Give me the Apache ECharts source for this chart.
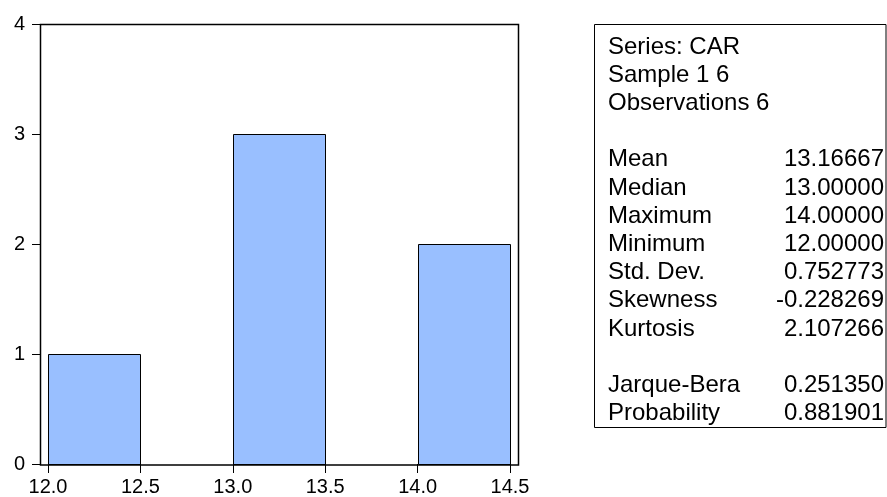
<!DOCTYPE html>
<html>
<head>
<meta charset="utf-8">
<script src="https://cdn.jsdelivr.net/npm/echarts@6/dist/echarts.min.js"></script>
<style>
  html, body { margin: 0; padding: 0; background: #fff; }
  #chart { width: 887px; height: 497px; }
</style>
</head>
<body>
<div id="chart"></div>
<script>
// Histogram of CAR: bin starts, bin width and counts
const binStarts = [12.0, 12.5, 13.0, 13.5, 14.0];
const binWidth = 0.5;
const counts = [1, 0, 3, 0, 2];
const xTicks = [12.0, 12.5, 13.0, 13.5, 14.0, 14.5];
const yTicks = [0, 1, 2, 3, 4];

// Descriptive statistics panel
const headerLines = ['Series: CAR', 'Sample 1 6', 'Observations 6'];
const statNames = ['Mean', 'Median', 'Maximum', 'Minimum', 'Std. Dev.', 'Skewness', 'Kurtosis'];
const statValues = ['13.16667', '13.00000', '14.00000', '12.00000', '0.752773', '-0.228269', '2.107266'];
const testNames = ['Jarque-Bera', 'Probability'];
const testValues = ['0.251350', '0.881901'];

const FONT = 'Arial, "Liberation Sans", sans-serif';
const chart = echarts.init(document.getElementById('chart'), null, { renderer: 'canvas' });

// statistics panel text rows
const rowH = 28.2;
const rowTop = 48;
const textLeft = 608;
const textRight = 884;
const statGraphics = [];
function addRow(idx, name, value) {
  statGraphics.push({
    type: 'text', left: textLeft, top: rowTop + idx * rowH - 13,
    style: { text: name, font: '24px ' + FONT, fill: '#000' }
  });
  if (value !== undefined) {
    statGraphics.push({
      type: 'text', right: 887 - textRight, top: rowTop + idx * rowH - 13,
      style: { text: value, font: '24px ' + FONT, fill: '#000' }
    });
  }
}
headerLines.forEach((t, i) => addRow(i, t));
statNames.forEach((t, i) => addRow(i + 4, t, statValues[i]));
testNames.forEach((t, i) => addRow(i + 12, t, testValues[i]));

chart.setOption({
  animation: false,
  backgroundColor: '#fff',
  grid: { left: 48, right: 887 - 510, top: 24.5, bottom: 497 - 465, containLabel: false },
  xAxis: {
    type: 'value', min: 12.0, max: 14.5, interval: 0.5,
    axisLine: { show: false },
    axisTick: { show: true, length: 9, lineStyle: { color: '#000', width: 1 } },
    axisLabel: {
      margin: 13, color: '#000', fontFamily: FONT, fontSize: 20,
      formatter: v => v.toFixed(1), showMinLabel: true, showMaxLabel: true
    },
    splitLine: { show: false }
  },
  yAxis: {
    type: 'value', min: 0, max: 4, interval: 1, offset: 8,
    axisLine: { show: false },
    axisTick: { show: true, length: 8, lineStyle: { color: '#000', width: 1 } },
    axisLabel: { margin: 15, color: '#000', fontFamily: FONT, fontSize: 20 },
    splitLine: { show: false }
  },
  graphic: [
    // plot frame
    {
      type: 'rect', shape: { x: 40.5, y: 24.5, width: 478, height: 440.5 },
      style: { fill: 'none', stroke: '#000', lineWidth: 1.5 }, z: 10
    },
    // statistics box
    {
      type: 'rect', shape: { x: 594.5, y: 24.5, width: 291.5, height: 403 },
      style: { fill: '#fff', stroke: '#000', lineWidth: 1 }, z: 1
    }
  ].concat(statGraphics.map(g => Object.assign({ z: 2 }, g))),
  series: [{
    type: 'custom',
    data: binStarts.map((s, i) => [s, s + binWidth, counts[i]]).filter(d => d[2] > 0),
    renderItem: function (params, api) {
      const p0 = api.coord([api.value(0), 0]);
      const p1 = api.coord([api.value(1), api.value(2)]);
      return {
        type: 'rect',
        shape: { x: Math.round(p0[0]) + 0.5, y: Math.round(p1[1]) + 0.5,
                 width: Math.round(p1[0] - p0[0]), height: Math.round(p0[1] - p1[1]) },
        style: { fill: '#99BFFF', stroke: '#000', lineWidth: 1 }
      };
    },
    encode: { x: [0, 1], y: 2 },
    z: 5
  }]
});
</script>
</body>
</html>
